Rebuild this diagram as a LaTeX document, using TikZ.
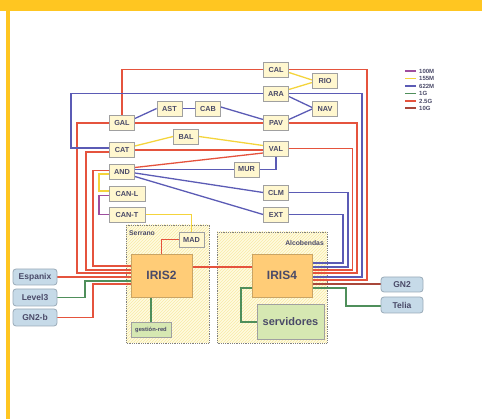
\documentclass[tikz,border=0pt]{standalone}
\usepackage{fontspec}
\setmainfont{Liberation Sans}
\usetikzlibrary{patterns}
\pgfdeclarelayer{regions}
\pgfdeclarelayer{wires}
\pgfsetlayers{regions,wires,main}
\definecolor{frameY}{HTML}{FFC621}
\definecolor{txt}{HTML}{4A4A68}
\definecolor{boxgray}{HTML}{A0A0A0}
\definecolor{boxfill}{HTML}{FFF7CF}
\definecolor{irisfill}{HTML}{FFCC77}
\definecolor{irisline}{HTML}{C9A465}
\definecolor{extfill}{HTML}{C6DAE8}
\definecolor{extline}{HTML}{9AAAB8}
\definecolor{grfill}{HTML}{D6E8B2}
\definecolor{regfill}{HTML}{FFFBE0}
\definecolor{hatch}{HTML}{F8EBA6}
\definecolor{c100}{HTML}{9E4E9E}
\definecolor{c155}{HTML}{F4D43C}
\definecolor{c622}{HTML}{5B5BB5}
\definecolor{c1G}{HTML}{4F8F5B}
\definecolor{c25}{HTML}{E5533D}
\definecolor{c10}{HTML}{A8473A}
\begin{document}
\begin{tikzpicture}[x=1pt,y=-1pt,
  rt/.style={draw=boxgray, fill=boxfill, line width=0.8pt, minimum width=25pt, minimum height=15pt, inner sep=0pt, font=\fontsize{7.3}{8}\selectfont\bfseries, text=txt},
  rtw/.style={rt, minimum width=36pt},
  iris/.style={draw=irisline, fill=irisfill, line width=0.8pt, minimum width=61pt, minimum height=43pt, inner sep=0pt, font=\fontsize{12}{14}\selectfont\bfseries, text=txt},
  extn/.style={draw=extline, fill=extfill, line width=0.8pt, rounded corners=3pt, minimum width=44pt, minimum height=16pt, inner sep=0pt, font=\fontsize{8.5}{10}\selectfont\bfseries, text=txt},
  grn/.style={draw=boxgray, fill=grfill, line width=0.8pt, inner sep=0pt, text=txt},
  region/.style={draw=gray, densely dotted, line width=0.8pt},
  reglabel/.style={font=\fontsize{6.8}{8}\selectfont\bfseries, text=txt, inner sep=0pt},
  legtxt/.style={font=\fontsize{6}{7}\selectfont\bfseries, text=txt, inner sep=0pt, anchor=west},
  conn/.style={line width=1.3pt},
  l100/.style={conn, draw=c100},
  l155/.style={conn, draw=c155},
  l622/.style={conn, draw=c622},
  l1G/.style={conn, draw=c1G},
  l25/.style={conn, draw=c25},
  l10/.style={conn, draw=c10}]
\useasboundingbox (0,0) rectangle (482,419);
% frame
\fill[frameY] (0,0) rectangle (482,11);
\fill[frameY] (6,0) rectangle (10,419);
% regions
\begin{pgfonlayer}{regions}
\fill[regfill] (126,225) rectangle (209,343);
\fill[pattern=north east lines, pattern color=hatch] (126,225) rectangle (209,343);
\draw[region] (126,225) rectangle (209,343);
\fill[regfill] (217,232) rectangle (327,343);
\fill[pattern=north east lines, pattern color=hatch] (217,232) rectangle (327,343);
\draw[region] (217,232) rectangle (327,343);
\end{pgfonlayer}
\node[reglabel, anchor=west] (lblS) at (129,233) {Serrano};
\node[reglabel, anchor=east] (lblA) at (324,243) {Alcobendas};
% nodes
\node[rt] (CAL) at (276,69.5) {CAL};
\node[rt] (RIO) at (325,81) {RIO};
\node[rt] (ARA) at (276,93.5) {ARA};
\node[rt] (NAV) at (325,108.5) {NAV};
\node[rt] (PAV) at (276,123) {PAV};
\node[rt] (VAL) at (276,148.5) {VAL};
\node[rt] (GAL) at (122,123) {GAL};
\node[rt] (AST) at (169.5,108.5) {AST};
\node[rt] (CAB) at (208,108.5) {CAB};
\node[rt] (BAL) at (186,136.5) {BAL};
\node[rt] (CAT) at (122,150) {CAT};
\node[rt] (AND) at (122,171.5) {AND};
\node[rt] (MUR) at (246.5,169.5) {MUR};
\node[rtw] (CANL) at (127,193.5) {CAN-L};
\node[rtw] (CANT) at (127,214.5) {CAN-T};
\node[rt] (MAD) at (191.5,239.5) {MAD};
\node[rt] (CLM) at (276,192.5) {CLM};
\node[rt] (EXT) at (276,214.5) {EXT};
\node[iris] (IRIS2) at (161.5,275.5) {IRIS2};
\node[iris, minimum width=60pt] (IRIS4) at (282,275.5) {IRIS4};
\node[grn, minimum width=67pt, minimum height=35pt, font=\fontsize{11}{13}\selectfont\bfseries] (serv) at (290.5,321.5) {servidores};
\node[grn, minimum width=40pt, minimum height=15pt, font=\fontsize{5.8}{7}\selectfont\bfseries] (gest) at (151,329.5) {gestión-red};
\node[extn] (Espanix) at (35,277) {Espanix};
\node[extn, minimum height=17pt] (Level3) at (35,297.5) {Level3};
\node[extn, minimum height=17pt] (GN2b) at (35,317.5) {GN2-b};
\node[extn, minimum width=42pt, minimum height=15pt] (GN2) at (402,284.5) {GN2};
\node[extn, minimum width=42pt, minimum height=16pt] (Telia) at (402,305) {Telia};
% connectors behind nodes
\begin{pgfonlayer}{wires}
% red 2.5G
\draw[l25] (GAL.north) |- (CAL.west);
\draw[l25] (CAL.east) -| (367,280) -- (IRIS4.east |- 0,280);
\draw[l25] (GAL.east) -- (PAV.west);
\draw[l25] (PAV.east) -| (357,273) -- (IRIS4.east |- 0,273);
\draw[l25] (CAT.east) -- (CAT.east -| VAL.west);
\draw[l25] (VAL.east) -| (352.5,270) -- (IRIS4.east |- 0,270);
\draw[l25] ([yshift=4pt]AND.east) -- ([yshift=-4.5pt]VAL.west);
\draw[l25] (GAL.west) -| (77,273) -- (IRIS2.west |- 0,273);
\draw[l25] ([yshift=-2pt]CAT.west) -| (86,270) -- (IRIS2.west |- 0,270);
\draw[l25] ([yshift=1pt]AND.west) -| (93,266) -- (IRIS2.west |- 0,266);
\draw[l25] (Espanix.east) -- (IRIS2.west |- Espanix.east);
\draw[l25] (GN2b.east) -| (93,284) -- (IRIS2.west |- 0,284);
\draw[l25] (MAD.west) -| (IRIS2.north);
\draw[l25] (IRIS2.east |- 0,267) -- (IRIS4.west |- 0,267);
% blue 622M
\draw[l622] ([yshift=2pt]CAT.west) -| (71,93.5) -- (ARA.west);
\draw[l622] (ARA.east) -| (362,277) -- (IRIS4.east |- 0,277);
\draw[l622] ([yshift=-3pt]ARA.east) -- ([yshift=1pt]NAV.west);
\draw[l622] ([yshift=3.5pt]PAV.east) -- ([yshift=-0.5pt]NAV.west);
\draw[l622] ([yshift=4.5pt]GAL.east) -- (AST.west);
\draw[l622] (AST.east) -- (CAB.west);
\draw[l622] ([yshift=1.5pt]CAB.east) -- ([yshift=3.5pt]PAV.west);
\draw[l622] (VAL.south) |- (MUR.east);
\draw[l622] (AND.east |- MUR.west) -- (MUR.west);
\draw[l622] ([yshift=-1.5pt]AND.east) -- (CLM.west);
\draw[l622] ([yshift=-5pt]AND.east) -- (EXT.west);
\draw[l622] (CLM.east) -| (348,267) -- (IRIS4.east |- 0,267);
\draw[l622] (EXT.east) -| (343,263) -- (IRIS4.east |- 0,263);
% yellow 155M
\draw[l155] ([yshift=-3pt]CAL.east) -- ([yshift=1pt]RIO.west);
\draw[l155] ([yshift=4pt]ARA.east) -- ([yshift=-1.5pt]RIO.west);
\draw[l155] ([yshift=4pt]CAT.east) -- (BAL.west);
\draw[l155] (BAL.east) -- ([yshift=3pt]VAL.west);
\draw[l155] ([yshift=-2.5pt]AND.west) -| (99,191) -- (CANL.west |- 0,191);
\draw[l155] (CANT.east) -| (MAD.north);
% purple 100M
\draw[l100] ([yshift=-2pt]CANL.west) -| (99,214.5) -- (CANT.west);
% green 1G
\draw[l1G] (Level3.east) -| (85,281) -- (IRIS2.west |- 0,281);
\draw[l1G] (gest.north) -- (gest.north |- IRIS2.south);
\draw[l1G] (IRIS4.west |- 0,288) -| (241,322) -- (serv.west |- 0,322);
\draw[l1G] (IRIS4.east |- 0,288) -| (346,306) -- (Telia.west |- 0,306);
% dark red 10G
\draw[l10] (IRIS4.east |- 0,284) -- (GN2.west |- 0,284);
\end{pgfonlayer}
% legend
\node[legtxt] (lg1) at (419,71) {100M};
\node[legtxt] (lg2) at (419,78.5) {155M};
\node[legtxt] (lg3) at (419,86) {622M};
\node[legtxt] (lg4) at (419,93.5) {1G};
\node[legtxt] (lg5) at (419,101) {2.5G};
\node[legtxt] (lg6) at (419,108) {10G};
\draw[l100] ([xshift=-3pt]lg1.west) -- ++(-11,0);
\draw[l155] ([xshift=-3pt]lg2.west) -- ++(-11,0);
\draw[l622] ([xshift=-3pt]lg3.west) -- ++(-11,0);
\draw[l1G] ([xshift=-3pt]lg4.west) -- ++(-11,0);
\draw[l25] ([xshift=-3pt]lg5.west) -- ++(-11,0);
\draw[l10] ([xshift=-3pt]lg6.west) -- ++(-11,0);
\end{tikzpicture}
\end{document}
